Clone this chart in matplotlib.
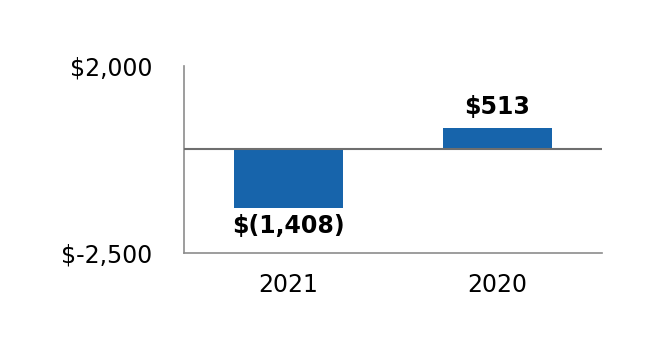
import matplotlib.pyplot as plt

years = ["2021", "2020"]
values = [-1408, 513]
labels = ["$(1,408)", "$513"]
y_ticks = [2000, -2500]
y_tick_labels = ["$2,000", "$-2,500"]

fig = plt.figure(figsize=(6.66, 3.6), dpi=100)
ax = fig.add_axes([0.2763, 0.2972, 0.6276, 0.5194])

x = range(len(years))
bars = ax.bar(x, values, width=0.52, color="#1764ab", zorder=2)
ax.axhline(0, color="#6e6e6e", linewidth=1.5, zorder=3)

for b, v, lab in zip(bars, values, labels):
    cx = b.get_x() + b.get_width() / 2
    if v < 0:
        ax.annotate(lab, (cx, v), xytext=(0, -4.3), textcoords="offset points",
                    ha="center", va="top", fontsize=17, fontweight="bold")
    else:
        ax.annotate(lab, (cx, v), xytext=(0, 6.5), textcoords="offset points",
                    ha="center", va="bottom", fontsize=17, fontweight="bold")

ax.set_xlim(-0.5, 1.5)
ax.set_ylim(-2500, 2000)
ax.set_xticks(list(x))
ax.set_xticklabels(years, fontsize=17)
ax.set_yticks(y_ticks)
ax.set_yticklabels(y_tick_labels, fontsize=17)
ax.tick_params(axis="both", length=0)
ax.tick_params(axis="y", pad=23)
ax.tick_params(axis="x", pad=14.3)

for s in ["top", "right"]:
    ax.spines[s].set_visible(False)
for s in ["left", "bottom"]:
    ax.spines[s].set_color("#8c8c8c")
    ax.spines[s].set_linewidth(1.2)

fig.savefig("out.png", dpi=100)
